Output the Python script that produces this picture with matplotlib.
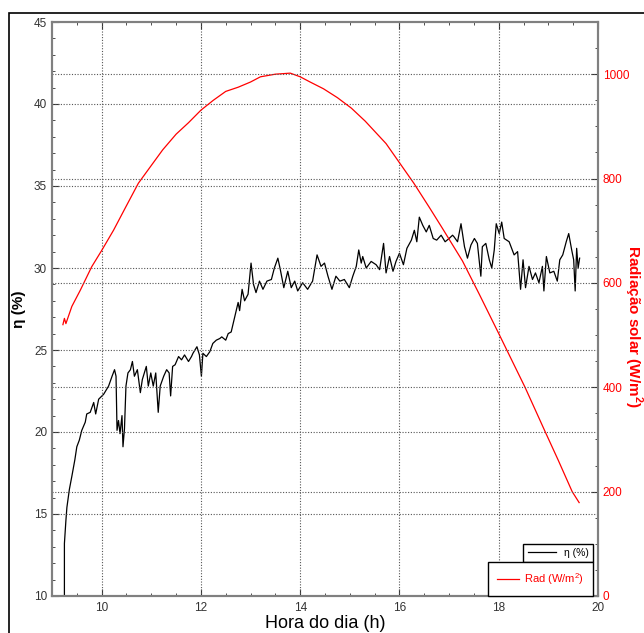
import matplotlib
matplotlib.use("Agg")
from matplotlib import pyplot as plt
from matplotlib.patches import Rectangle
from matplotlib.ticker import MultipleLocator

plt.rcParams['font.family'] = ['Liberation Sans', 'DejaVu Sans']
plt.rcParams['mathtext.fontset'] = 'custom'
plt.rcParams['mathtext.rm'] = 'Liberation Sans'
plt.rcParams['mathtext.bf'] = 'Liberation Sans:bold'

# eficiencia (eixo esquerdo)
t_eta = [9.25, 9.25, 9.28, 9.30, 9.35, 9.40, 9.46, 9.50, 9.55, 9.60, 9.67, 9.70, 9.77, 9.84, 9.88,
         9.94, 10.04, 10.14, 10.21, 10.26, 10.29, 10.31, 10.34, 10.37, 10.41, 10.43, 10.46, 10.49,
         10.53, 10.58, 10.62, 10.66, 10.72, 10.78, 10.82, 10.90, 10.94, 10.99, 11.04, 11.09, 11.14,
         11.18, 11.25, 11.31, 11.36, 11.39, 11.43, 11.48, 11.55, 11.61, 11.67, 11.75, 11.81, 11.84,
         11.92, 11.97, 12.01, 12.04, 12.11, 12.18, 12.24, 12.31, 12.38, 12.42, 12.50, 12.55, 12.61,
         12.68, 12.75, 12.78, 12.83, 12.88, 12.95, 13.01, 13.06, 13.11, 13.18, 13.25, 13.33, 13.42,
         13.48, 13.55, 13.60, 13.67, 13.75, 13.82, 13.89, 13.95, 14.05, 14.15, 14.25, 14.34, 14.42,
         14.49, 14.56, 14.64, 14.72, 14.80, 14.89, 14.99, 15.06, 15.13, 15.18, 15.23, 15.26, 15.33,
         15.43, 15.53, 15.60, 15.68, 15.73, 15.80, 15.87, 15.93, 16.00, 16.08, 16.15, 16.24, 16.30,
         16.35, 16.40, 16.47, 16.54, 16.60, 16.68, 16.75, 16.84, 16.92, 17.00, 17.07, 17.10, 17.17,
         17.24, 17.31, 17.37, 17.44, 17.51, 17.57, 17.64, 17.67, 17.74, 17.81, 17.86, 17.91, 17.95,
         18.01, 18.06, 18.11, 18.21, 18.31, 18.38, 18.44, 18.49, 18.54, 18.61, 18.68, 18.74, 18.81,
         18.88, 18.91, 18.96, 19.03, 19.11, 19.18, 19.23, 19.29, 19.36, 19.41, 19.47, 19.51, 19.54,
         19.57, 19.60, 19.63]
eta = [9.5, 13.2, 14.6, 15.4, 16.5, 17.3, 18.3, 19.1, 19.5, 20.1, 20.6, 21.1, 21.2, 21.8, 21.1,
       22.0, 22.3, 22.8, 23.4, 23.8, 23.4, 20.1, 20.7, 19.9, 21.0, 19.1, 20.2, 22.8,
       23.6, 23.8, 24.3, 23.4, 23.8, 22.4, 23.2, 24.0, 22.8, 23.6, 22.8, 23.6, 21.2,
       22.8, 23.4, 23.8, 23.6, 22.2, 24.0, 24.1, 24.6, 24.4, 24.7, 24.3, 24.6, 24.8,
       25.2, 24.7, 23.4, 24.8, 24.6, 24.9, 25.4, 25.6, 25.7, 25.8, 25.6, 26.0, 26.1,
       27.0, 27.9, 27.4, 28.7, 28.0, 28.4, 30.3, 29.0, 28.5, 29.2, 28.7, 29.2, 29.3,
       30.0, 30.6, 29.9, 28.8, 29.8, 28.8, 29.2, 28.6, 29.1, 28.7, 29.2, 30.8, 30.1,
       30.3, 29.5, 28.7, 29.5, 29.2, 29.3, 28.8, 29.5, 30.1, 31.1, 30.3, 30.7, 30.0,
       30.4, 30.2, 29.9, 31.5, 29.7, 30.7, 29.8, 30.4, 30.9, 30.2, 31.2, 31.7, 32.3,
       31.6, 33.1, 32.6, 32.2, 32.6, 31.8, 31.7, 32.0, 31.6, 31.8, 32.0, 31.9, 31.6,
       32.7, 31.3, 30.6, 31.4, 31.8, 31.5, 29.5, 31.3, 31.5, 30.5, 30.0, 31.1, 32.7,
       32.1, 32.8, 31.8, 31.6, 30.8, 31.0, 28.7, 30.5, 28.8, 30.1, 29.3, 29.7, 29.1,
       30.1, 28.6, 30.7, 29.7, 29.8, 29.2, 30.5, 30.8, 31.6, 32.1, 31.1, 30.5, 28.6,
       31.2, 30.0, 30.6]

# radiacao solar (eixo direito)
t_rad = [9.22, 9.25, 9.28, 9.40, 9.57, 9.80, 10.00, 10.24, 10.50, 10.74, 11.00, 11.23, 11.50,
         11.75, 12.00, 12.25, 12.50, 12.75, 13.00, 13.20, 13.50, 13.80, 14.00, 14.20, 14.47,
         14.75, 15.03, 15.31, 15.73, 16.01, 16.29, 16.60, 16.85, 17.27, 17.61, 18.00, 18.53,
         18.93, 19.20, 19.48, 19.62]
rad = [520, 532, 522, 555, 586, 631, 662, 701, 748, 791, 825, 855, 885,
       907, 931, 950, 967, 975, 985, 995, 1000, 1002, 995, 985, 972,
       955, 935, 910, 867, 829, 791, 745, 707, 642, 578, 503, 400,
       316, 260, 200, 179]

fig = plt.figure(figsize=(6.44, 6.33), dpi=100)
ax = fig.add_axes([52/644, 37/633, 546/644, 574/633])
ax2 = ax.twinx()

l1, = ax.plot(t_eta, eta, color='black', lw=0.9)
l2, = ax2.plot(t_rad, rad, color='red', lw=0.9)

ax.set_xlim(9, 20)
ax.set_ylim(10, 45)
ax2.set_ylim(0, 1100)

ax.xaxis.set_major_locator(MultipleLocator(2))
ax.xaxis.set_minor_locator(MultipleLocator(0.5))
ax.yaxis.set_major_locator(MultipleLocator(5))
ax.yaxis.set_minor_locator(MultipleLocator(1))
ax2.yaxis.set_major_locator(MultipleLocator(200))
ax2.yaxis.set_minor_locator(MultipleLocator(50))

gkw = dict(color='#555555', linestyle=(0, (1, 1.5)), linewidth=0.8)
for v in [10, 12, 14, 16, 18]:
    ax.axvline(v, **gkw)
for v in [15, 20, 25, 30, 35, 40]:
    ax.axhline(v, **gkw)
for v in [200, 400, 600, 800, 1000]:
    ax2.axhline(v, **gkw)

for a in (ax, ax2):
    for s in a.spines.values():
        s.set_color('#808080')
        s.set_linewidth(1.5)
ax.tick_params(which='both', direction='in', top=True, right=False, labelsize=8.5,
               labelcolor='#333333', color='#333333')
ax.tick_params(which='major', length=5)
ax.tick_params(which='minor', length=2.5)
ax2.tick_params(which='both', direction='in', labelsize=8.5, labelcolor='red', color='#333333')
ax2.tick_params(which='major', length=5)
ax2.tick_params(which='minor', length=2.5)
ax.tick_params(axis='x', pad=4)

ax.set_xlabel("Hora do dia (h)", fontsize=13, labelpad=1)
ax.set_ylabel("η (%)", fontsize=11, fontweight='bold', labelpad=6)
ax2.set_ylabel("Radiação solar (W/m$^\\mathbf{2}$)", fontsize=11, fontweight='bold',
               color='red', rotation=-90, va='center')
ax2.yaxis.set_label_coords(1.064, 0.469)

leg1 = ax2.legend([l1], ['η (%)'], loc='lower right', bbox_to_anchor=(0.991, 0.059),
                  borderaxespad=0, fancybox=False, edgecolor='black', fontsize=7.5,
                  handlelength=2.7, framealpha=1)
leg1.get_frame().set_linewidth(1.0)
ax2.add_artist(leg1)
leg2 = ax2.legend([l2], ['Rad (W/m$^2$)'], loc='lower right', bbox_to_anchor=(0.991, 0.0),
                  borderaxespad=0, fancybox=False, edgecolor='black', fontsize=8,
                  handlelength=2.0, handletextpad=0.5, borderpad=0.8, framealpha=1,
                  labelcolor='red')
leg2.get_frame().set_linewidth(1.0)

fig.add_artist(Rectangle((9/644, -0.1), 1.0, (633-13)/633 + 0.1, fill=False,
                         edgecolor='black', linewidth=1.2, transform=fig.transFigure))

fig.savefig("out.png", dpi=100)
